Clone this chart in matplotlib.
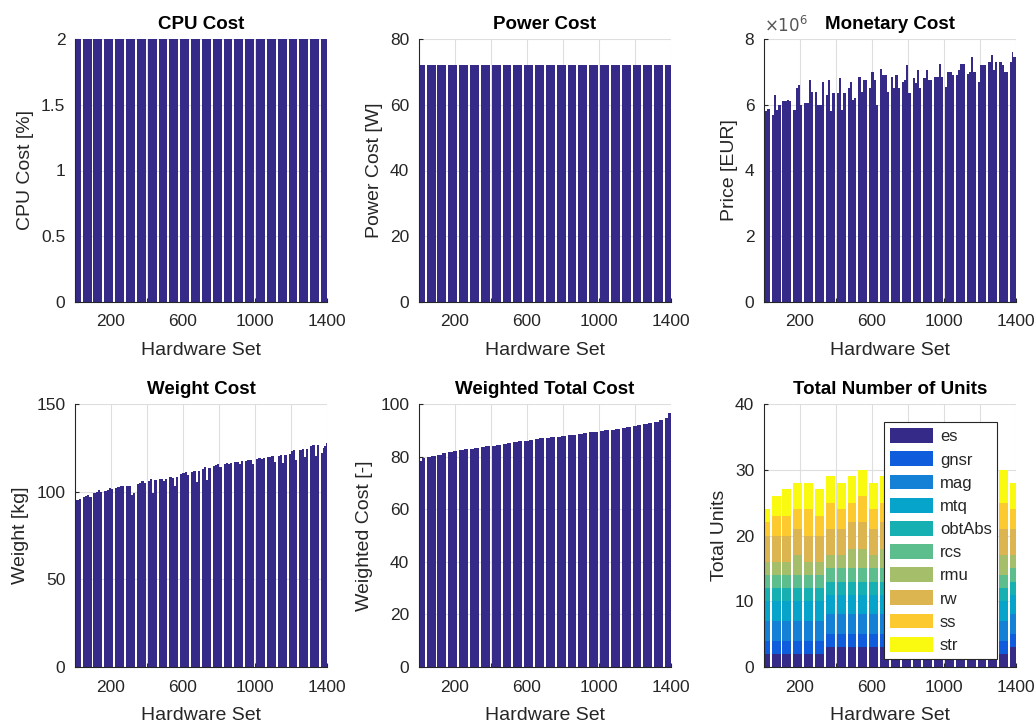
import numpy as np
import matplotlib
matplotlib.use("Agg")
import matplotlib.pyplot as plt
from matplotlib.ticker import FormatStrFormatter

plt.rcParams['font.family'] = ['Liberation Sans', 'DejaVu Sans']

# ---- data ----
cpu_cost = [2] * 24
power_cost = [72] * 24

# price in EUR / 1e6, 4 values per visible block
monetary_cost = [
    5.85, 5.80, 5.87, 5.87,  5.70, 6.30, 5.85, 6.00,  6.10, 6.10, 6.15, 6.10,
    5.85, 6.50, 6.60, 6.00,  6.05, 6.05, 6.75, 6.40,  6.40, 6.00, 6.00, 6.70,
    6.30, 6.75, 5.80, 6.35,  6.35, 6.80, 5.85, 6.35,  6.50, 6.70, 6.15, 6.20,
    6.85, 6.40, 6.75, 6.75,  6.50, 7.00, 6.75, 6.00,  7.10, 6.90, 6.90, 6.40,
    6.85, 6.50, 6.90, 6.50,  6.70, 6.75, 7.20, 6.35,  6.80, 6.65, 7.05, 6.50,
    6.80, 7.05, 6.75, 6.75,  6.85, 6.85, 7.25, 6.85,  6.55, 7.00, 7.00, 6.90,
    6.90, 7.05, 7.25, 7.25,  6.95, 7.00, 7.45, 7.00,  6.70, 7.20, 7.20, 7.20,
    7.30, 7.50, 7.05, 7.30,  7.30, 7.20, 7.00, 7.00,  7.30, 7.60, 7.45, 7.45,
]

weight_cost = [
    94.5, 95.0, 95.5, 96.0,  97.0, 97.5, 98.0, 97.0,  99.0, 100.0, 101.0, 100.0,
    100.5, 101.0, 102.0, 101.5,  102.0, 102.5, 103.0, 103.0,  103.0, 103.0, 98.0, 99.0,
    104.5, 105.0, 106.0, 105.0,  106.0, 107.0, 99.5, 106.5,  107.5, 107.5, 106.0, 107.5,
    108.5, 108.0, 103.0, 108.5,  110.0, 110.5, 111.0, 109.5,  111.5, 112.0, 105.5, 112.0,
    113.0, 114.0, 106.5, 113.5,  114.5, 115.0, 115.5, 114.0,  116.0, 116.5, 115.5, 116.5,
    117.0, 117.0, 116.0, 117.5,  117.5, 118.0, 118.0, 116.0,  118.5, 119.0, 118.5, 119.0,
    119.5, 120.0, 120.5, 117.0,  120.5, 121.0, 116.5, 121.0,  121.5, 123.0, 123.5, 118.0,
    123.5, 124.5, 120.0, 124.5,  126.0, 126.5, 120.5, 126.5,  122.0, 125.0, 126.0, 127.5,
]

weighted_cost = [
    78.3, 79.5, 79.8, 80.3, 80.7, 81.2, 81.6, 82.1, 82.5, 82.8, 83.0, 83.3,
    83.6, 83.9, 84.2, 84.5, 84.8, 85.2, 85.5, 85.8, 86.1, 86.4, 86.7, 87.0,
    87.2, 87.4, 87.6, 87.9, 88.1, 88.3, 88.6, 88.9, 89.2, 89.4, 89.8, 90.0,
    90.3, 90.6, 90.9, 91.2, 91.6, 91.9, 92.3, 92.7, 93.2, 93.9, 94.8, 96.5,
]

unit_names = ['es', 'gnsr', 'mag', 'mtq', 'obtAbs', 'rcs', 'rmu', 'rw', 'ss', 'str']
units_es     = [2, 2, 2, 2, 2, 2, 3, 3, 3, 3, 3, 3, 3, 3, 3, 3, 3, 3, 3, 3, 3, 2, 2, 3]
units_gnsr   = [2] * 24
units_mag    = [3] * 24
units_mtq    = [3] * 24
units_obtAbs = [2] * 24
units_rcs    = [2] * 24
units_rmu    = [2, 2, 2, 3, 2, 2, 2, 2, 3, 3, 2, 3, 3, 2, 3, 3, 2, 3, 3, 3, 3, 3, 3, 2]
units_rw     = [4] * 24
units_ss     = [2, 3, 3, 3, 4, 3, 4, 3, 3, 4, 3, 3, 3, 4, 3, 4, 3, 3, 4, 3, 4, 4, 4, 3]
units_str    = [2, 3, 4, 4, 4, 4, 4, 4, 4, 4, 4, 4, 4, 4, 4, 4, 4, 4, 4, 4, 4, 4, 5, 4]
units = [units_es, units_gnsr, units_mag, units_mtq, units_obtAbs,
         units_rcs, units_rmu, units_rw, units_ss, units_str]

# ---- style ----
bar_color = '#352a87'
unit_colors = ['#352a87', '#0f5cdd', '#1481d6', '#06a4ca', '#16b0b2',
               '#5cbe8c', '#a5be6a', '#ddb550', '#fcca2e', '#f9fa0f']
txt = '#262626'

# bars appear as blocks separated by thin white gaps
xmax = 1400
gaps = 37 + 60.2 * np.arange(23)
gap_w = 11
block_l = np.r_[0, gaps + gap_w / 2]
block_r = np.r_[gaps - gap_w / 2, xmax]


def bar_layout(n):
    k = n // len(block_l)
    xs, ws = [], []
    for l, r in zip(block_l, block_r):
        w = (r - l) / k
        for j in range(k):
            xs.append(l + j * w)
            ws.append(w * 1.05 if j < k - 1 else w)
    return np.array(xs), np.array(ws)


def style_axes(ax, title, ylabel, ylim, yticks):
    ax.set_xlim(0, xmax)
    ax.set_ylim(*ylim)
    ax.set_yticks(yticks)
    ax.yaxis.set_major_formatter(FormatStrFormatter('%g'))
    ax.set_xticks(range(200, 1401, 200))
    ax.set_xticklabels(['200', '', '600', '', '1000', '', '1400'])
    ax.set_title(title, fontsize=13.5, fontweight='bold', pad=7)
    ax.set_xlabel('Hardware Set', fontsize=14, color=txt, labelpad=9)
    ax.set_ylabel(ylabel, fontsize=14, color=txt, labelpad=5)
    ax.grid(True, color='#dedede', linewidth=0.8)
    ax.set_axisbelow(True)
    for s in ['top', 'right']:
        ax.spines[s].set_visible(False)
    for s in ['left', 'bottom']:
        ax.spines[s].set_color(txt)
        ax.spines[s].set_linewidth(0.8)
    ax.tick_params(direction='in', length=3, colors=txt, labelsize=12.5)
    ax.tick_params(axis='x', pad=9)
    ax.tick_params(axis='y', pad=7)


fig = plt.figure(figsize=(10.36, 7.26), dpi=100)
W, H = 252 / 1036, 263 / 726
lefts = [75 / 1036, 419 / 1036, 764 / 1036]
bottoms = [1 - 302 / 726, 1 - 667 / 726]
axs = [[fig.add_axes([l, b, W, H]) for l in lefts] for b in bottoms]

panels = [
    (axs[0][0], cpu_cost, 1, 'CPU Cost', 'CPU Cost [%]', (0, 2), [0, 0.5, 1, 1.5, 2]),
    (axs[0][1], power_cost, 1, 'Power Cost', 'Power Cost [W]', (0, 80), range(0, 81, 20)),
    (axs[0][2], monetary_cost, 1e6, 'Monetary Cost', 'Price [EUR]', (0, 8e6), np.arange(0, 8.1e6, 2e6)),
    (axs[1][0], weight_cost, 1, 'Weight Cost', 'Weight [kg]', (0, 150), [0, 50, 100, 150]),
    (axs[1][1], weighted_cost, 1, 'Weighted Total Cost', 'Weighted Cost [-]', (0, 100), range(0, 101, 20)),
]
for ax, vals, scale, title, ylabel, ylim, yticks in panels:
    x, w = bar_layout(len(vals))
    ax.bar(x, np.array(vals) * scale, width=w, align='edge', color=bar_color,
           linewidth=0, antialiased=False)
    style_axes(ax, title, ylabel, ylim, yticks)

mon = axs[0][2]
mon.yaxis.set_major_formatter(FormatStrFormatter('%g'))
mon.set_yticklabels(['0', '2', '4', '6', '8'])
mon.text(0.0, 1.015, r'$\times10^{6}$', transform=mon.transAxes, fontsize=12,
         color='#555555', ha='left', va='bottom')

# stacked units
ax = axs[1][2]
x, w = bar_layout(24)
bottom = np.zeros(24)
for name, vals, c in zip(unit_names, units, unit_colors):
    ax.bar(x, vals, width=w, bottom=bottom, align='edge', color=c,
           linewidth=0, antialiased=False, label=name)
    bottom += np.array(vals)
style_axes(ax, 'Total Number of Units', 'Total Units', (0, 40), range(0, 41, 10))
leg = ax.legend(loc='upper left', bbox_to_anchor=(0.476, 0.93), fontsize=12,
                frameon=True, fancybox=False, framealpha=1, edgecolor=txt,
                handlelength=2.6, handleheight=1.0, labelspacing=0.42,
                handletextpad=0.4, borderpad=0.35, borderaxespad=0)
leg.get_frame().set_linewidth(0.8)
for t in leg.get_texts():
    t.set_color(txt)

fig.savefig('out.png', dpi=100)
